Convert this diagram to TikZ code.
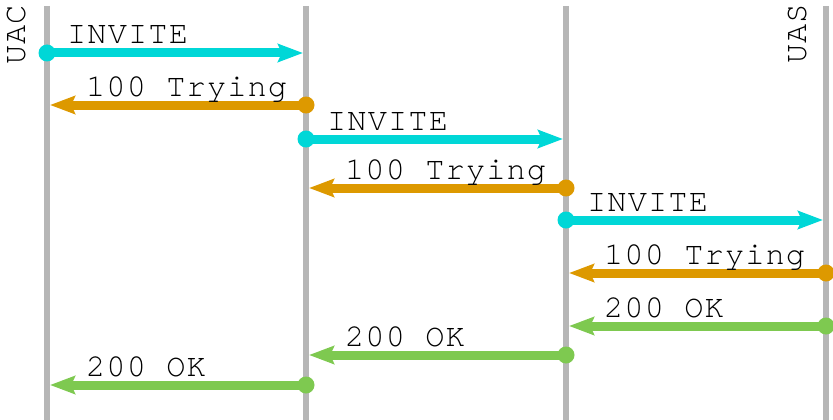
\documentclass[tikz,border=0pt]{standalone}
\usepackage{fontspec}
\setmonofont{TeX Gyre Cursor}[LetterSpace=3.5]
\usetikzlibrary{arrows.meta}

\definecolor{cian}{RGB}{0,215,215}
\definecolor{naranja}{RGB}{221,153,0}
\definecolor{verde}{RGB}{126,201,80}
\definecolor{gris}{RGB}{182,182,182}

\begin{document}
\begin{tikzpicture}[x=1pt,y=-1pt,
    carril/.style={gris,line width=6pt},
    msg/.style={line width=9pt,-{Stealth[length=25pt,width=18pt,inset=4pt]},shorten >=3pt},
    etiq/.style={anchor=base west,inner sep=0pt,font=\ttfamily\fontsize{32}{34}\selectfont}]
  \useasboundingbox (0,0) rectangle (833,420);
  % carriles verticales
  \coordinate (c1a) at (47,6);  \coordinate (c1b) at (47,420);
  \coordinate (c2a) at (306,6); \coordinate (c2b) at (306,420);
  \coordinate (c3a) at (566,6); \coordinate (c3b) at (566,420);
  \coordinate (c4a) at (826,6); \coordinate (c4b) at (826,420);
  \draw[carril] (c1a)--(c1b) (c2a)--(c2b) (c3a)--(c3b) (c4a)--(c4b);
  \node[etiq,anchor=center,rotate=90] (uac) at (17,35){UAC};
  \node[etiq,anchor=center,rotate=90] (uas) at (798,34){UAS};
  % INVITE hacia la derecha
  \coordinate (i1a) at (47,53);  \coordinate (i1b) at (306,53);
  \coordinate (i2a) at (306,139); \coordinate (i2b) at (566,139);
  \coordinate (i3a) at (566,220); \coordinate (i3b) at (826,220);
  \draw[msg,cian] (i1a)--(i1b);
  \draw[msg,cian] (i2a)--(i2b);
  \draw[msg,cian] (i3a)--(i3b);
  \fill[cian] (i1a) circle[radius=8.5pt] (i2a) circle[radius=8.5pt] (i3a) circle[radius=8.5pt];
  \node[etiq] (ti1) at (67,44){INVITE};
  \node[etiq] (ti2) at (327,130){INVITE};
  \node[etiq] (ti3) at (587,211){INVITE};
  % 100 Trying de vuelta
  \coordinate (p1a) at (306,105); \coordinate (p1b) at (47,105);
  \coordinate (p2a) at (566,188); \coordinate (p2b) at (306,188);
  \coordinate (p3a) at (826,273); \coordinate (p3b) at (566,273);
  \draw[msg,naranja] (p1a)--(p1b);
  \draw[msg,naranja] (p2a)--(p2b);
  \draw[msg,naranja] (p3a)--(p3b);
  \fill[naranja] (p1a) circle[radius=8.5pt] (p2a) circle[radius=8.5pt] (p3a) circle[radius=8.5pt];
  \node[etiq] (tp1) at (86,96){100 Trying};
  \node[etiq] (tp2) at (345,179){100 Trying};
  \node[etiq] (tp3) at (604,264){100 Trying};
  % 200 OK de vuelta
  \coordinate (o1a) at (826,326); \coordinate (o1b) at (566,326);
  \coordinate (o2a) at (566,355); \coordinate (o2b) at (306,355);
  \coordinate (o3a) at (306,385); \coordinate (o3b) at (47,385);
  \draw[msg,verde] (o1a)--(o1b);
  \draw[msg,verde] (o2a)--(o2b);
  \draw[msg,verde] (o3a)--(o3b);
  \fill[verde] (o1a) circle[radius=8.5pt] (o2a) circle[radius=8.5pt] (o3a) circle[radius=8.5pt];
  \node[etiq] (to1) at (604,317){200 OK};
  \node[etiq] (to2) at (345,346){200 OK};
  \node[etiq] (to3) at (86,376){200 OK};
\end{tikzpicture}
\end{document}
